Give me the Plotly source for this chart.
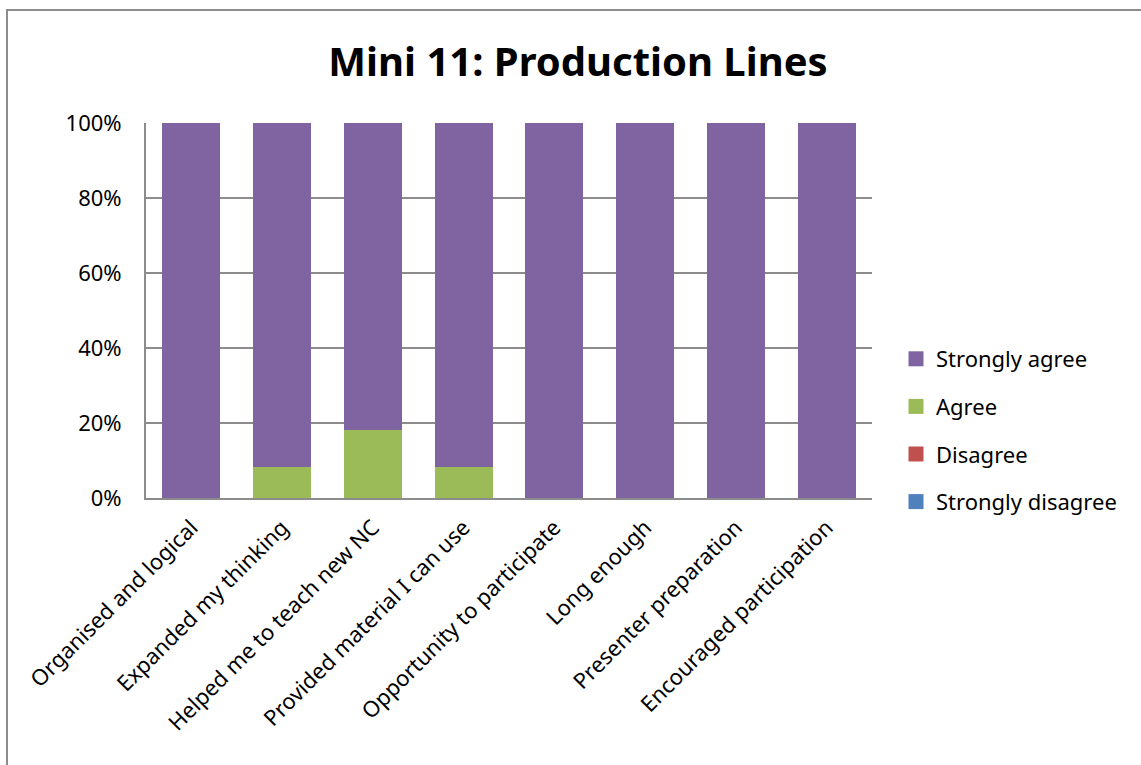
import plotly.graph_objects as go

categories = ["Organised and logical", "Expanded my thinking", "Helped me to teach new NC",
              "Provided material I can use", "Opportunity to participate", "Long enough",
              "Presenter preparation", "Encouraged participation"]
strongly_disagree = [0, 0, 0, 0, 0, 0, 0, 0]
disagree = [0, 0, 0, 0, 0, 0, 0, 0]
agree = [0, 0.083, 0.182, 0.083, 0, 0, 0, 0]
strongly_agree = [1.0, 0.917, 0.818, 0.917, 1.0, 1.0, 1.0, 1.0]

series = [
    ("Strongly disagree", strongly_disagree, "#4F81BD", 4),
    ("Disagree", disagree, "#C0504D", 3),
    ("Agree", agree, "#9BBB59", 2),
    ("Strongly agree", strongly_agree, "#8064A2", 1),
]

FONT = "Noto Sans"
fig = go.Figure()
for name, vals, col, rank in series:
    fig.add_trace(go.Bar(x=categories, y=vals, name=name, marker_color=col,
                         marker_line_width=0, legendgroup=name, showlegend=False))
# legend entries with larger square swatches
for name, vals, col, rank in series:
    fig.add_trace(go.Scatter(x=[None], y=[None], mode="markers", name=name,
                             marker=dict(symbol="square", size=15, color=col),
                             legendgroup=name, legendrank=rank, showlegend=True,
                             hoverinfo="skip"))

W, H = 1141, 765
L, R, T, B = 146, 872, 123, 498
pw, ph = R - L, B - T

def px(x):
    return (x - L) / pw

def py(y):
    return (B - y) / ph

fig.add_shape(type="rect", xref="paper", yref="paper",
              x0=px(7), x1=px(1150), y0=py(775), y1=py(10),
              line=dict(color="#8C8C8C", width=2), fillcolor="rgba(0,0,0,0)", layer="below")

fig.update_layout(
    width=W, height=H,
    margin=dict(l=L, r=W - R, t=T, b=H - B, autoexpand=False),
    barmode="stack", bargap=0.36,
    plot_bgcolor="white", paper_bgcolor="white",
    font=dict(family=FONT, size=21, color="black"),
    title=dict(text="<b>Mini 11: Production Lines</b>", xref="container", x=578 / W,
               xanchor="center", yref="container", y=1 - 62 / H, yanchor="middle",
               font=dict(size=40, family=FONT)),
    legend=dict(x=px(896), xanchor="left", y=py(338), yanchor="top",
                traceorder="grouped", tracegroupgap=16,
                font=dict(size=22, family=FONT), itemwidth=30),
    showlegend=True,
)
fig.update_yaxes(range=[0, 1], tickvals=[0, 0.2, 0.4, 0.6, 0.8, 1.0],
                 ticktext=["0%", "20%", "40%", "60%", "80%", "100%"],
                 showgrid=True, gridcolor="#8C8C8C", gridwidth=1.5,
                 showline=True, linecolor="#8C8C8C", linewidth=2,
                 ticks="outside", ticklen=18, tickcolor="rgba(0,0,0,0)",
                 zeroline=False, tickfont=dict(size=22, family=FONT))
fig.update_xaxes(tickangle=-45, showline=True, linecolor="#8C8C8C", linewidth=2,
                 ticks="outside", ticklen=6, tickcolor="rgba(0,0,0,0)",
                 tickfont=dict(size=22, family=FONT), mirror=False)

fig.write_html("out.html", config={"displayModeBar": False},
               post_script="document.body.style.margin='0';")
